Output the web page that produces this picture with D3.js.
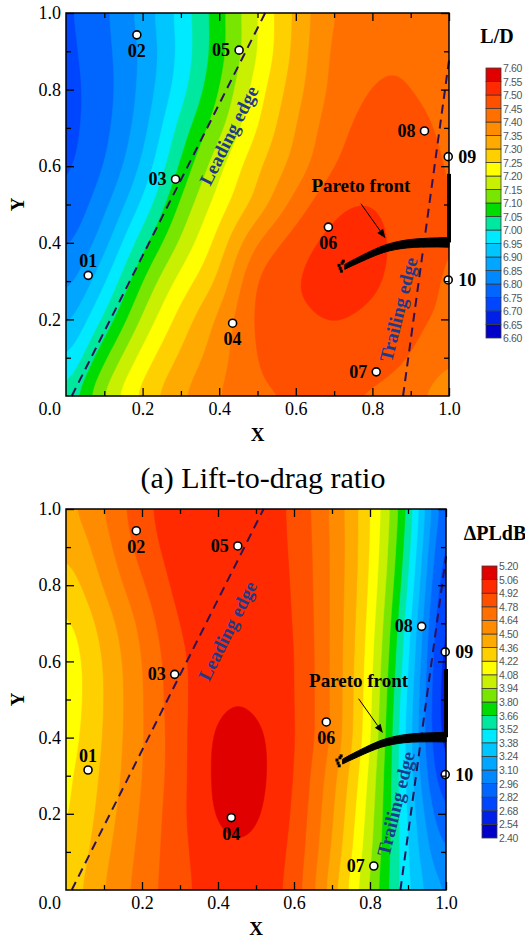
<!DOCTYPE html>
<html>
<head>
<meta charset="utf-8">
<script src="https://cdn.jsdelivr.net/npm/d3@7"></script>
<style>
  html, body { margin: 0; padding: 0; background: #fff; }
  svg { display: block; }
</style>
</head>
<body>
<svg id="chart" width="525" height="939"></svg>
<script>
// ---------------------------------------------------------------------------
// Design space: normalised planform coordinates X, Y in [0, 1]
// ---------------------------------------------------------------------------
const gridStep = 0.1;                       // spacing of the response grid
const xTicks = [0.2, 0.4, 0.6, 0.8, 1.0];
const yTicks = [0.2, 0.4, 0.6, 0.8, 1.0];
const minorTicks = [0.1, 0.3, 0.5, 0.7, 0.9];

// Lift-to-drag ratio on the 11 x 11 grid; rows go from Y = 0 up to Y = 1,
// columns from X = 0 to X = 1.
const ldRows = [
  [7.00, 7.16, 7.27, 7.345, 7.40, 7.44, 7.448, 7.448, 7.44, 7.41, 7.37],
  [6.93, 7.09, 7.22, 7.31, 7.38, 7.452, 7.48, 7.49, 7.478, 7.448, 7.40],
  [6.87, 7.01, 7.16, 7.27, 7.36, 7.46, 7.49, 7.50, 7.49, 7.465, 7.435],
  [6.82, 6.94, 7.10, 7.22, 7.31, 7.455, 7.497, 7.52, 7.508, 7.475, 7.44],
  [6.78, 6.88, 7.03, 7.16, 7.27, 7.40, 7.475, 7.515, 7.51, 7.482, 7.445],
  [6.75, 6.835, 6.96, 7.11, 7.225, 7.32, 7.42, 7.49, 7.50, 7.478, 7.445],
  [6.735, 6.80, 6.91, 7.06, 7.185, 7.29, 7.37, 7.45, 7.482, 7.472, 7.443],
  [6.73, 6.785, 6.88, 7.02, 7.135, 7.25, 7.35, 7.43, 7.468, 7.462, 7.44],
  [6.73, 6.78, 6.865, 6.98, 7.10, 7.225, 7.33, 7.415, 7.452, 7.45, 7.435],
  [6.733, 6.785, 6.86, 6.965, 7.08, 7.20, 7.315, 7.41, 7.44, 7.445, 7.43],
  [6.737, 6.79, 6.87, 6.97, 7.08, 7.20, 7.31, 7.40, 7.425, 7.43, 7.425]
];

// Sonic-boom loudness change (dB) on the same grid.
const pldbRows = [
  [4.25, 4.50, 4.70, 4.88, 4.98, 5.00, 4.86, 4.42, 3.92, 3.40, 3.05],
  [4.20, 4.46, 4.68, 4.88, 5.02, 5.03, 4.88, 4.48, 3.97, 3.38, 2.90],
  [4.17, 4.42, 4.66, 4.88, 5.08, 5.08, 4.90, 4.52, 4.01, 3.36, 2.75],
  [4.16, 4.39, 4.64, 4.87, 5.10, 5.10, 4.92, 4.56, 4.05, 3.33, 2.60],
  [4.13, 4.37, 4.63, 4.87, 5.09, 5.09, 4.93, 4.62, 4.10, 3.32, 2.50],
  [4.11, 4.36, 4.63, 4.88, 5.035, 5.04, 4.93, 4.62, 4.12, 3.35, 2.47],
  [4.11, 4.37, 4.64, 4.89, 5.02, 5.03, 4.93, 4.62, 4.14, 3.40, 2.48],
  [4.16, 4.42, 4.68, 4.93, 5.01, 5.02, 4.92, 4.62, 4.17, 3.45, 2.52],
  [4.26, 4.51, 4.76, 4.97, 5.01, 5.01, 4.91, 4.62, 4.20, 3.52, 2.58],
  [4.36, 4.58, 4.84, 4.99, 5.01, 5.00, 4.90, 4.62, 4.22, 3.58, 2.65],
  [4.45, 4.64, 4.88, 5.00, 5.01, 5.00, 4.89, 4.61, 4.23, 3.63, 2.73]
];

// Contour levels (21 edges -> 20 bands) and the shared band palette, low to high.
const ldLevels = [6.60, 6.65, 6.70, 6.75, 6.80, 6.85, 6.90, 6.95, 7.00, 7.05, 7.10,
                  7.15, 7.20, 7.25, 7.30, 7.35, 7.40, 7.45, 7.50, 7.55, 7.60];
const pldbLevels = [2.40, 2.54, 2.68, 2.82, 2.96, 3.10, 3.24, 3.38, 3.52, 3.66, 3.80,
                    3.94, 4.08, 4.22, 4.36, 4.50, 4.64, 4.78, 4.92, 5.06, 5.20];
const bandColors = ["#0000c8", "#0020e8", "#0046ff", "#0066ff", "#0088ff",
                    "#00a6ff", "#00c6ff", "#00eaff", "#00e8a0", "#00dc00",
                    "#78e600", "#c8f000", "#ffff00", "#ffd000", "#ffaa00",
                    "#ff8c00", "#ff7000", "#ff5000", "#ff2a00", "#e00000"];

// Sample designs
const sampleNames = ["01", "02", "03", "04", "05", "06", "07", "08", "09", "10"];
const sampleX = [0.058, 0.185, 0.286, 0.435, 0.452, 0.685, 0.810, 0.936, 0.998, 0.998];
const sampleY = [0.315, 0.943, 0.566, 0.190, 0.903, 0.441, 0.063, 0.692, 0.625, 0.303];
const sampleSide = ["above", "below", "left", "below", "left", "below", "left", "left", "right", "right"];

// Pareto front (non-dominated designs)
const frontX = [0.728, 0.745, 0.770, 0.800, 0.830, 0.860, 0.890, 0.930, 0.970, 1.000];
const frontY = [0.337, 0.346, 0.358, 0.372, 0.384, 0.392, 0.397, 0.400, 0.401, 0.401];
const frontTailX = [1.000, 1.000];
const frontTailY = [0.401, 0.580];
const strayX = [0.716, 0.721, 0.713, 0.724, 0.719];
const strayY = [0.333, 0.347, 0.341, 0.352, 0.326];

// Wing leading and trailing edges
const leadingX = [0.015, 0.520];
const leadingY = [0.000, 1.000];
const trailingX = [0.880, 1.000];
const trailingY = [0.000, 0.876];

// ---------------------------------------------------------------------------
const svg = d3.select("#chart");
const serif = "'Liberation Serif', 'Times New Roman', serif";
const sans = "'Liberation Sans', Arial, sans-serif";

// Bicubic (Catmull-Rom) evaluation of a row-major grid at (u, v) in [0,1]^2
function makeField(rows) {
  const nr = rows.length, nc = rows[0].length;
  const get = (r, c) => {
    if (c < 0) return 2 * get(r, 0) - get(r, 1);
    if (c > nc - 1) return 2 * get(r, nc - 1) - get(r, nc - 2);
    if (r < 0) return 2 * get(0, c) - get(1, c);
    if (r > nr - 1) return 2 * get(nr - 1, c) - get(nr - 2, c);
    return rows[r][c];
  };
  const cr = (p0, p1, p2, p3, t) =>
    0.5 * (2 * p1 + (-p0 + p2) * t + (2 * p0 - 5 * p1 + 4 * p2 - p3) * t * t +
           (-p0 + 3 * p1 - 3 * p2 + p3) * t * t * t);
  return (u, v) => {
    const gx = u / gridStep, gy = v / gridStep;
    const i = Math.min(Math.max(Math.floor(gx), 0), nc - 2);
    const j = Math.min(Math.max(Math.floor(gy), 0), nr - 2);
    const tx = gx - i, ty = gy - j;
    const col = [];
    for (let r = j - 1; r <= j + 2; r++) {
      col.push(cr(get(r, i - 1), get(r, i), get(r, i + 1), get(r, i + 2), tx));
    }
    return cr(col[0], col[1], col[2], col[3], ty);
  };
}

const panels = [
  { rows: ldRows, levels: ldLevels, left: 66, top: 13, width: 383, height: 383,
    unit: "L/D", unitAt: [497, 43], bar: { x: 486, y: 68, w: 15, h: 270 },
    title: "(a) Lift-to-drag ratio", titleAt: [263, 488] },
  { rows: pldbRows, levels: pldbLevels, left: 66, top: 509, width: 380, height: 381,
    unit: "\u0394PLdB", unitAt: [495, 540], bar: { x: 482, y: 566, w: 15, h: 272 } }
];

const N = 220;   // resampling resolution for contouring

panels.forEach((p, pi) => {
  const x = d3.scaleLinear().domain([0, 1]).range([p.left, p.left + p.width]);
  const y = d3.scaleLinear().domain([0, 1]).range([p.top + p.height, p.top]);
  const g = svg.append("g");

  // --- filled contours ----------------------------------------------------
  const field = makeField(p.rows);
  const values = new Float64Array(N * N);
  for (let jj = 0; jj < N; jj++) {
    const v = 1 - (jj + 0.5) / N;
    for (let ii = 0; ii < N; ii++) {
      values[jj * N + ii] = field((ii + 0.5) / N, v);
    }
  }
  d3.blur2({ data: values, width: N, height: N }, 6);
  const lower = p.levels.slice(0, p.levels.length - 1);
  const color = d3.scaleOrdinal().domain(lower).range(bandColors);
  const bands = d3.contours().size([N, N]).thresholds(lower)(values);
  const proj = d3.geoTransform({
    point(cx, cy) {
      this.stream.point(p.left + cx / N * p.width, p.top + cy / N * p.height);
    }
  });
  const clipId = "clip" + pi;
  g.append("clipPath").attr("id", clipId).append("rect")
    .attr("x", p.left).attr("y", p.top).attr("width", p.width).attr("height", p.height);
  g.append("g").attr("clip-path", `url(#${clipId})`)
    .selectAll("path").data(bands).join("path")
    .attr("d", d3.geoPath(proj))
    .attr("fill", d => color(d.value))
    .attr("stroke", d => color(d.value))
    .attr("stroke-width", 0.6);

  // --- wing edges ---------------------------------------------------------
  const edgeLine = d3.line().x(d => x(d[0])).y(d => y(d[1]));
  [[leadingX, leadingY], [trailingX, trailingY]].forEach(([ex, ey]) => {
    g.append("path")
      .attr("d", edgeLine(ex.map((v, k) => [v, ey[k]])))
      .attr("fill", "none").attr("stroke", "#2e1257")
      .attr("stroke-width", 2).attr("stroke-dasharray", "9,6");
  });
  const edgeAngle = (ex, ey) =>
    Math.atan2(y(ey[1]) - y(ey[0]), x(ex[1]) - x(ex[0])) * 180 / Math.PI;
  g.append("text")
    .attr("transform", `translate(${x(0.425)},${y(0.68)}) rotate(${edgeAngle(leadingX, leadingY)})`)
    .attr("text-anchor", "middle").attr("dominant-baseline", "central")
    .attr("font-family", serif).attr("font-weight", "bold").attr("font-size", 19)
    .attr("fill", "#1e3a8c").text("Leading edge");
  g.append("text")
    .attr("transform", `translate(${x(0.868)},${y(0.226)}) rotate(-76)`)
    .attr("text-anchor", "middle").attr("dominant-baseline", "central")
    .attr("font-family", serif).attr("font-weight", "bold").attr("font-size", 19)
    .attr("fill", "#1e3a8c").text("Trailing edge");

  // --- Pareto front -------------------------------------------------------
  // the cloud of non-dominated designs thickens towards X = 1
  const halfWidth = k => 2.4 + 2.4 * k / (frontX.length - 1);
  const frontBand = d3.area()
    .x(d => x(d[0]))
    .y0((d, k) => y(d[1]) + halfWidth(k))
    .y1((d, k) => y(d[1]) - halfWidth(k))
    .curve(d3.curveMonotoneX);
  g.append("path")
    .attr("d", frontBand(frontX.map((v, k) => [v, frontY[k]])))
    .attr("fill", "#000").attr("stroke", "#000").attr("stroke-width", 1);
  g.append("path")
    .attr("d", edgeLine(frontTailX.map((v, k) => [v, frontTailY[k]])))
    .attr("fill", "none").attr("stroke", "#000").attr("stroke-width", 4);
  g.selectAll(".stray").data(strayX).join("rect")
    .attr("x", (d, k) => x(d) - 1.5).attr("y", (d, k) => y(strayY[k]) - 1.5)
    .attr("width", 3).attr("height", 3).attr("fill", "#000");

  // annotation and arrow
  g.append("text")
    .attr("x", x(0.77)).attr("y", y(0.533))
    .attr("text-anchor", "middle")
    .attr("font-family", serif).attr("font-weight", "bold").attr("font-size", 19)
    .text("Pareto front");
  const ax0 = x(0.77), ay0 = y(0.502), ax1 = x(0.834), ay1 = y(0.412);
  const ang = Math.atan2(ay1 - ay0, ax1 - ax0);
  const headLen = 9, headHalf = 3.5;
  const bx = ax1 - headLen * Math.cos(ang), by = ay1 - headLen * Math.sin(ang);
  g.append("line")
    .attr("x1", ax0).attr("y1", ay0).attr("x2", bx).attr("y2", by)
    .attr("stroke", "#000").attr("stroke-width", 1);
  g.append("path")
    .attr("d", `M${ax1},${ay1}L${bx - headHalf * Math.sin(ang)},${by + headHalf * Math.cos(ang)}` +
               `L${bx + headHalf * Math.sin(ang)},${by - headHalf * Math.cos(ang)}Z`)
    .attr("fill", "#000");

  // --- sample designs -----------------------------------------------------
  const pts = g.append("g");
  pts.selectAll("circle").data(sampleNames).join("circle")
    .attr("cx", (d, k) => x(sampleX[k])).attr("cy", (d, k) => y(sampleY[k]))
    .attr("r", 4).attr("fill", "#fff").attr("stroke", "#000").attr("stroke-width", 1.6);
  pts.selectAll("text").data(sampleNames).join("text")
    .attr("font-family", serif).attr("font-weight", "bold").attr("font-size", 18)
    .attr("text-anchor", (d, k) => ({ left: "end", right: "start" }[sampleSide[k]] || "middle"))
    .attr("x", (d, k) => x(sampleX[k]) + ({ left: -9, right: 10 }[sampleSide[k]] || 0))
    .attr("y", (d, k) => y(sampleY[k]) + ({ above: -8, below: 22 }[sampleSide[k]] || 6))
    .text(d => d);

  // --- axes ---------------------------------------------------------------
  const axes = g.append("g").attr("font-family", serif);
  const styleAxis = sel => {
    sel.select(".domain").remove();
    sel.selectAll("line").attr("stroke", "#000").attr("stroke-width", 1.3);
    sel.selectAll("text").attr("font-family", serif).attr("font-size", 18).attr("fill", "#000");
  };
  const fmt = d3.format(".1f");
  axes.append("g").attr("transform", `translate(0,${p.top + p.height})`)
    .call(d3.axisBottom(x).tickValues(xTicks).tickSize(-8).tickPadding(6).tickFormat(fmt)).call(styleAxis);
  axes.append("g").attr("transform", `translate(0,${p.top + p.height})`)
    .call(d3.axisBottom(x).tickValues(minorTicks).tickSize(-5).tickFormat("")).call(styleAxis);
  axes.append("g").attr("transform", `translate(0,${p.top})`)
    .call(d3.axisTop(x).tickValues(xTicks).tickSize(-8).tickFormat("")).call(styleAxis);
  axes.append("g").attr("transform", `translate(0,${p.top})`)
    .call(d3.axisTop(x).tickValues(minorTicks).tickSize(-5).tickFormat("")).call(styleAxis);
  axes.append("g").attr("transform", `translate(${p.left},0)`)
    .call(d3.axisLeft(y).tickValues(yTicks).tickSize(-8).tickPadding(5).tickFormat(fmt)).call(styleAxis);
  axes.append("g").attr("transform", `translate(${p.left},0)`)
    .call(d3.axisLeft(y).tickValues(minorTicks).tickSize(-5).tickFormat("")).call(styleAxis);
  axes.append("g").attr("transform", `translate(${p.left + p.width},0)`)
    .call(d3.axisRight(y).tickValues(yTicks).tickSize(-8).tickFormat("")).call(styleAxis);
  axes.append("g").attr("transform", `translate(${p.left + p.width},0)`)
    .call(d3.axisRight(y).tickValues(minorTicks).tickSize(-5).tickFormat("")).call(styleAxis);
  // shared origin label
  axes.append("text")
    .attr("x", p.left - 5).attr("y", p.top + p.height + 19)
    .attr("text-anchor", "end").attr("font-size", 18).text(fmt(0));

  g.append("rect")
    .attr("x", p.left).attr("y", p.top).attr("width", p.width).attr("height", p.height)
    .attr("fill", "none").attr("stroke", "#000").attr("stroke-width", 1.5);

  // axis titles
  g.append("text")
    .attr("x", p.left + p.width / 2).attr("y", p.top + p.height + 45)
    .attr("text-anchor", "middle").attr("font-family", serif)
    .attr("font-weight", "bold").attr("font-size", 19).text("X");
  g.append("text")
    .attr("transform", `translate(17,${p.top + p.height / 2}) rotate(-90)`)
    .attr("text-anchor", "middle").attr("dominant-baseline", "central")
    .attr("font-family", serif).attr("font-weight", "bold").attr("font-size", 19).text("Y");

  // --- colour bar ---------------------------------------------------------
  const cb = p.bar;
  const cy = d3.scaleLinear().domain([p.levels[0], p.levels[p.levels.length - 1]])
    .range([cb.y + cb.h, cb.y]);
  const bar = g.append("g");
  bar.selectAll("rect").data(lower).join("rect")
    .attr("x", cb.x).attr("width", cb.w)
    .attr("y", (d, k) => cy(p.levels[k + 1]))
    .attr("height", (d, k) => cy(p.levels[k]) - cy(p.levels[k + 1]))
    .attr("fill", d => color(d))
    .attr("stroke", "#3a3a3a").attr("stroke-width", 0.8);
  bar.selectAll("text").data(p.levels).join("text")
    .attr("x", cb.x + cb.w + 2).attr("y", d => cy(d))
    .attr("dominant-baseline", "central")
    .attr("font-family", sans).attr("font-size", 10.5).attr("fill", "#555")
    .attr("letter-spacing", -0.4)
    .text(d => d.toFixed(2));
  g.append("text")
    .attr("x", p.unitAt[0]).attr("y", p.unitAt[1])
    .attr("text-anchor", "middle").attr("font-family", serif)
    .attr("font-weight", "bold").attr("font-size", 20).text(p.unit);

  if (p.title) {
    g.append("text")
      .attr("x", p.titleAt[0]).attr("y", p.titleAt[1])
      .attr("text-anchor", "middle").attr("font-family", serif)
      .attr("font-size", 30).text(p.title);
  }
});
</script>
</body>
</html>
